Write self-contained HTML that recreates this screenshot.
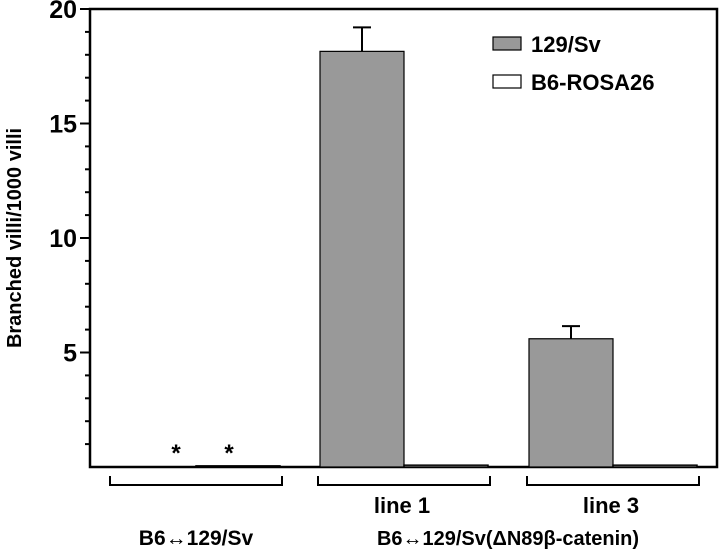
<!DOCTYPE html>
<html><head><meta charset="utf-8"><style>
body{margin:0;background:#fff}
svg{display:block;font-family:"Liberation Sans",Arial,sans-serif;font-weight:bold}
</style></head><body>
<svg id="c" width="720" height="555" viewBox="0 0 720 555">
<g id="axes"></g><g id="bars"></g>
<text transform="translate(21,238) rotate(-90)" text-anchor="middle" font-size="20">Branched villi/1000 villi</text>
<g>
<rect x="493" y="37" width="28" height="13" fill="#999" stroke="#000" stroke-width="1.2"/>
<text x="531" y="52" font-size="22">129/Sv</text>
<rect x="493" y="75" width="28" height="13" fill="#fff" stroke="#000" stroke-width="1.2"/>
<text x="531" y="90" font-size="22">B6-ROSA26</text>
</g>
</svg>
<script>
const categories=["B6↔129/Sv","line 1","line 3"];
const sv129=[0,18.15,5.6];
const sv129Err=[0,1.05,0.55];
const rosa=[0.05,0.08,0.08];
const yTicks=[5,10,15,20];
const groupLabels=["","line 1","line 3"];
const NS="http://www.w3.org/2000/svg";
const x0=90,x1=717,yTop=9,yBase=467,yMax=20;
const y=v=>yBase-(v/yMax)*(yBase-yTop);
const groupLeft=[112,320,529],barW=84;
const ax=document.getElementById('axes'),bg=document.getElementById('bars');
function mk(t,a,p){const e=document.createElementNS(NS,t);for(const k in a)e.setAttribute(k,a[k]);p.appendChild(e);return e;}
let e=mk('path',{d:`M${x0},${yTop}H${x1}V${yBase}H${x0}Z`,fill:'none',stroke:'#000','stroke-width':2.5},ax);


for(let v=1;v<=yMax;v++){const big=v%5===0;
 e=mk('line',{x1:big?x0-10:x0-5,x2:x0,y1:y(v),y2:y(v),stroke:'#000','stroke-width':2},ax);
 
 }
yTicks.forEach(v=>{const t=mk('text',{x:x0-13,y:y(v)+9,'text-anchor':'end','font-size':25},ax);t.textContent=v;
 
 });
categories.forEach((c,i)=>{const gl=groupLeft[i];
 const h1=sv129[i];
 if(h1>0.3){e=mk('rect',{x:gl,y:y(h1),width:barW,height:yBase-y(h1),fill:'#999',stroke:'#000','stroke-width':1.2},bg);
  
  
  const et=y(h1+sv129Err[i]);
  e=mk('path',{d:`M${gl+barW/2},${y(h1)}V${et}M${gl+barW/2-9},${et}H${gl+barW/2+9}`,stroke:'#000','stroke-width':2,fill:'none'},bg);
  
  
 } else {const t=mk('text',{x:gl+barW/2+22,y:yBase-6,'text-anchor':'middle','font-size':24},bg);t.textContent='*';
  
  }
 e=mk('rect',{x:gl+barW,y:y(rosa[i]),width:barW,height:yBase-y(rosa[i]),fill:'#fff',stroke:'#000','stroke-width':1.5},bg);
 
 
 if(i===0){const t=mk('text',{x:gl+barW+33,y:yBase-6,'text-anchor':'middle','font-size':24},bg);t.textContent='*';
  
  }
 e=mk('path',{d:`M${gl-2},476V485H${gl+2*barW+2}V476`,stroke:'#000','stroke-width':2,fill:'none'},bg);
 
 
 if(groupLabels[i]){const t=mk('text',{x:gl+barW-2,y:513,'text-anchor':'middle','font-size':22},bg);t.textContent=groupLabels[i];
  
  }
});
let t=mk('text',{x:196,y:545,'text-anchor':'middle','font-size':21},bg);t.textContent=categories[0];


t=mk('text',{x:508,y:545,'text-anchor':'middle','font-size':20,'textLength':262,'lengthAdjust':'spacingAndGlyphs'},bg);t.textContent='B6↔129/Sv(ΔN89β-catenin)';


</script>
</body></html>
